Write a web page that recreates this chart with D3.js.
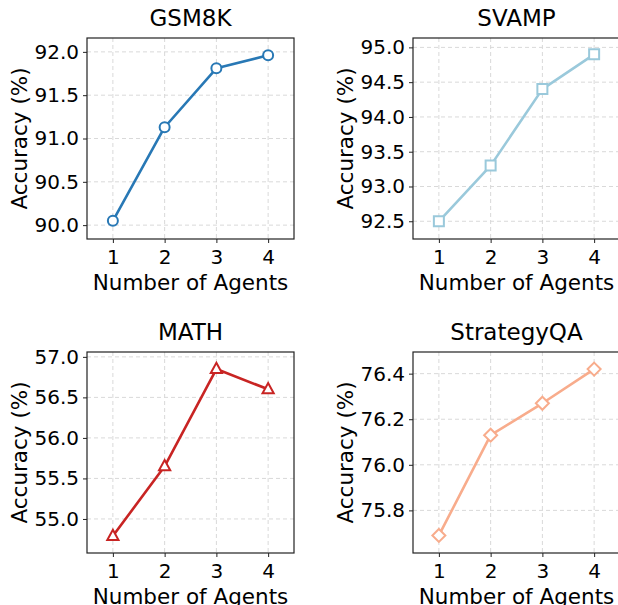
<!DOCTYPE html>
<html>
<head>
<meta charset="utf-8">
<script src="https://cdn.jsdelivr.net/npm/d3@7"></script>
<style>
  html, body { margin: 0; padding: 0; background: #fff; }
  svg text { font-family: "DejaVu Sans", sans-serif; fill: #000; }
</style>
</head>
<body>
<svg id="chart" width="618" height="605"></svg>
<script>
// ---- data ----
const agents = [1, 2, 3, 4];
const titles = ["GSM8K", "SVAMP", "MATH", "StrategyQA"];
const gsm8kValues = [90.05, 91.13, 91.81, 91.96];
const svampValues = [92.5, 93.3, 94.4, 94.9];
const mathValues = [54.79, 55.65, 56.85, 56.6];
const strategyqaValues = [75.69, 76.13, 76.27, 76.42];
const gsm8kTicks = ["90.0", "90.5", "91.0", "91.5", "92.0"];
const svampTicks = ["92.5", "93.0", "93.5", "94.0", "94.5", "95.0"];
const mathTicks = ["55.0", "55.5", "56.0", "56.5", "57.0"];
const strategyqaTicks = ["75.8", "76.0", "76.2", "76.4"];
const colors = ["#2878b5", "#9ac9db", "#c82423", "#f8ac8c"];
const markers = ["circle", "square", "triangle", "diamond"];

const panels = [
  { title: titles[0], values: gsm8kValues, ticks: gsm8kTicks, domain: [89.84, 92.16], color: colors[0], marker: markers[0], x0: 87, y0: 38 },
  { title: titles[1], values: svampValues, ticks: svampTicks, domain: [92.245, 95.135], color: colors[1], marker: markers[1], x0: 413, y0: 38 },
  { title: titles[2], values: mathValues, ticks: mathTicks, domain: [54.58, 57.06], color: colors[2], marker: markers[2], x0: 87, y0: 352 },
  { title: titles[3], values: strategyqaValues, ticks: strategyqaTicks, domain: [75.613, 76.495], color: colors[3], marker: markers[3], x0: 413, y0: 352 }
];

const W = 207, H = 201;
const svg = d3.select("#chart");

function markerPath(type) {
  if (type === "circle") return d3.symbol().type(d3.symbolCircle).size(Math.PI * 5 * 5)();
  if (type === "square") return "M-5,-5H5V5H-5Z";
  if (type === "triangle") return "M0,-6.2L5.6,4L-5.6,4Z";
  if (type === "diamond") return "M0,-6.5L6.5,0L0,6.5L-6.5,0Z";
}

panels.forEach(p => {
  const g = svg.append("g").attr("transform", `translate(${p.x0},${p.y0})`);
  const x = d3.scaleLinear().domain([0.5, 4.5]).range([0, W]);
  const y = d3.scaleLinear().domain(p.domain).range([H, 0]);
  const tickVals = p.ticks.map(Number);

  // grid
  g.append("g").selectAll("line.gx").data(agents).join("line")
    .attr("x1", d => x(d)).attr("x2", d => x(d)).attr("y1", 0).attr("y2", H)
    .attr("stroke", "#d9d9d9").attr("stroke-width", 1).attr("stroke-dasharray", "4,3");
  g.append("g").selectAll("line.gy").data(tickVals).join("line")
    .attr("x1", 0).attr("x2", W).attr("y1", d => y(d)).attr("y2", d => y(d))
    .attr("stroke", "#d9d9d9").attr("stroke-width", 1).attr("stroke-dasharray", "4,3");

  // axes
  const xAxis = d3.axisBottom(x).tickValues(agents).tickFormat(d3.format("d")).tickSize(4).tickPadding(7);
  const yAxis = d3.axisLeft(y).tickValues(tickVals).tickFormat((d, i) => p.ticks[i]).tickSize(4).tickPadding(4);
  const gx = g.append("g").attr("transform", `translate(0,${H})`).call(xAxis);
  const gy = g.append("g").call(yAxis);
  [gx, gy].forEach(a => {
    a.select(".domain").remove();
    a.selectAll(".tick line").attr("stroke", "#222").attr("stroke-width", 1);
    a.selectAll(".tick text").attr("font-size", 20).attr("fill", "#000").style("font-family", "DejaVu Sans");
  });

  // frame
  g.append("rect").attr("x", 0).attr("y", 0).attr("width", W).attr("height", H)
    .attr("fill", "none").attr("stroke", "#222").attr("stroke-width", 1.2);

  // line
  const line = d3.line().x((d, i) => x(agents[i])).y(d => y(d));
  g.append("path").datum(p.values).attr("d", line)
    .attr("fill", "none").attr("stroke", p.color).attr("stroke-width", 2.6).attr("stroke-linejoin", "round");
  g.append("g").selectAll("path.m").data(p.values).join("path")
    .attr("transform", (d, i) => `translate(${x(agents[i])},${y(d)})`)
    .attr("d", markerPath(p.marker))
    .attr("fill", "#fff").attr("stroke", p.color).attr("stroke-width", 2);

  // title
  g.append("text").attr("x", W / 2).attr("y", -12).attr("text-anchor", "middle")
    .attr("font-size", 23).text(p.title);
  // x label
  g.append("text").attr("x", W / 2).attr("y", H + 51).attr("text-anchor", "middle")
    .attr("font-size", 21.5).text("Number of Agents");
  // y label
  g.append("text").attr("transform", `translate(-60,${H / 2}) rotate(-90)`).attr("text-anchor", "middle")
    .attr("font-size", 21.5).text("Accuracy (%)");
});
</script>
</body>
</html>
